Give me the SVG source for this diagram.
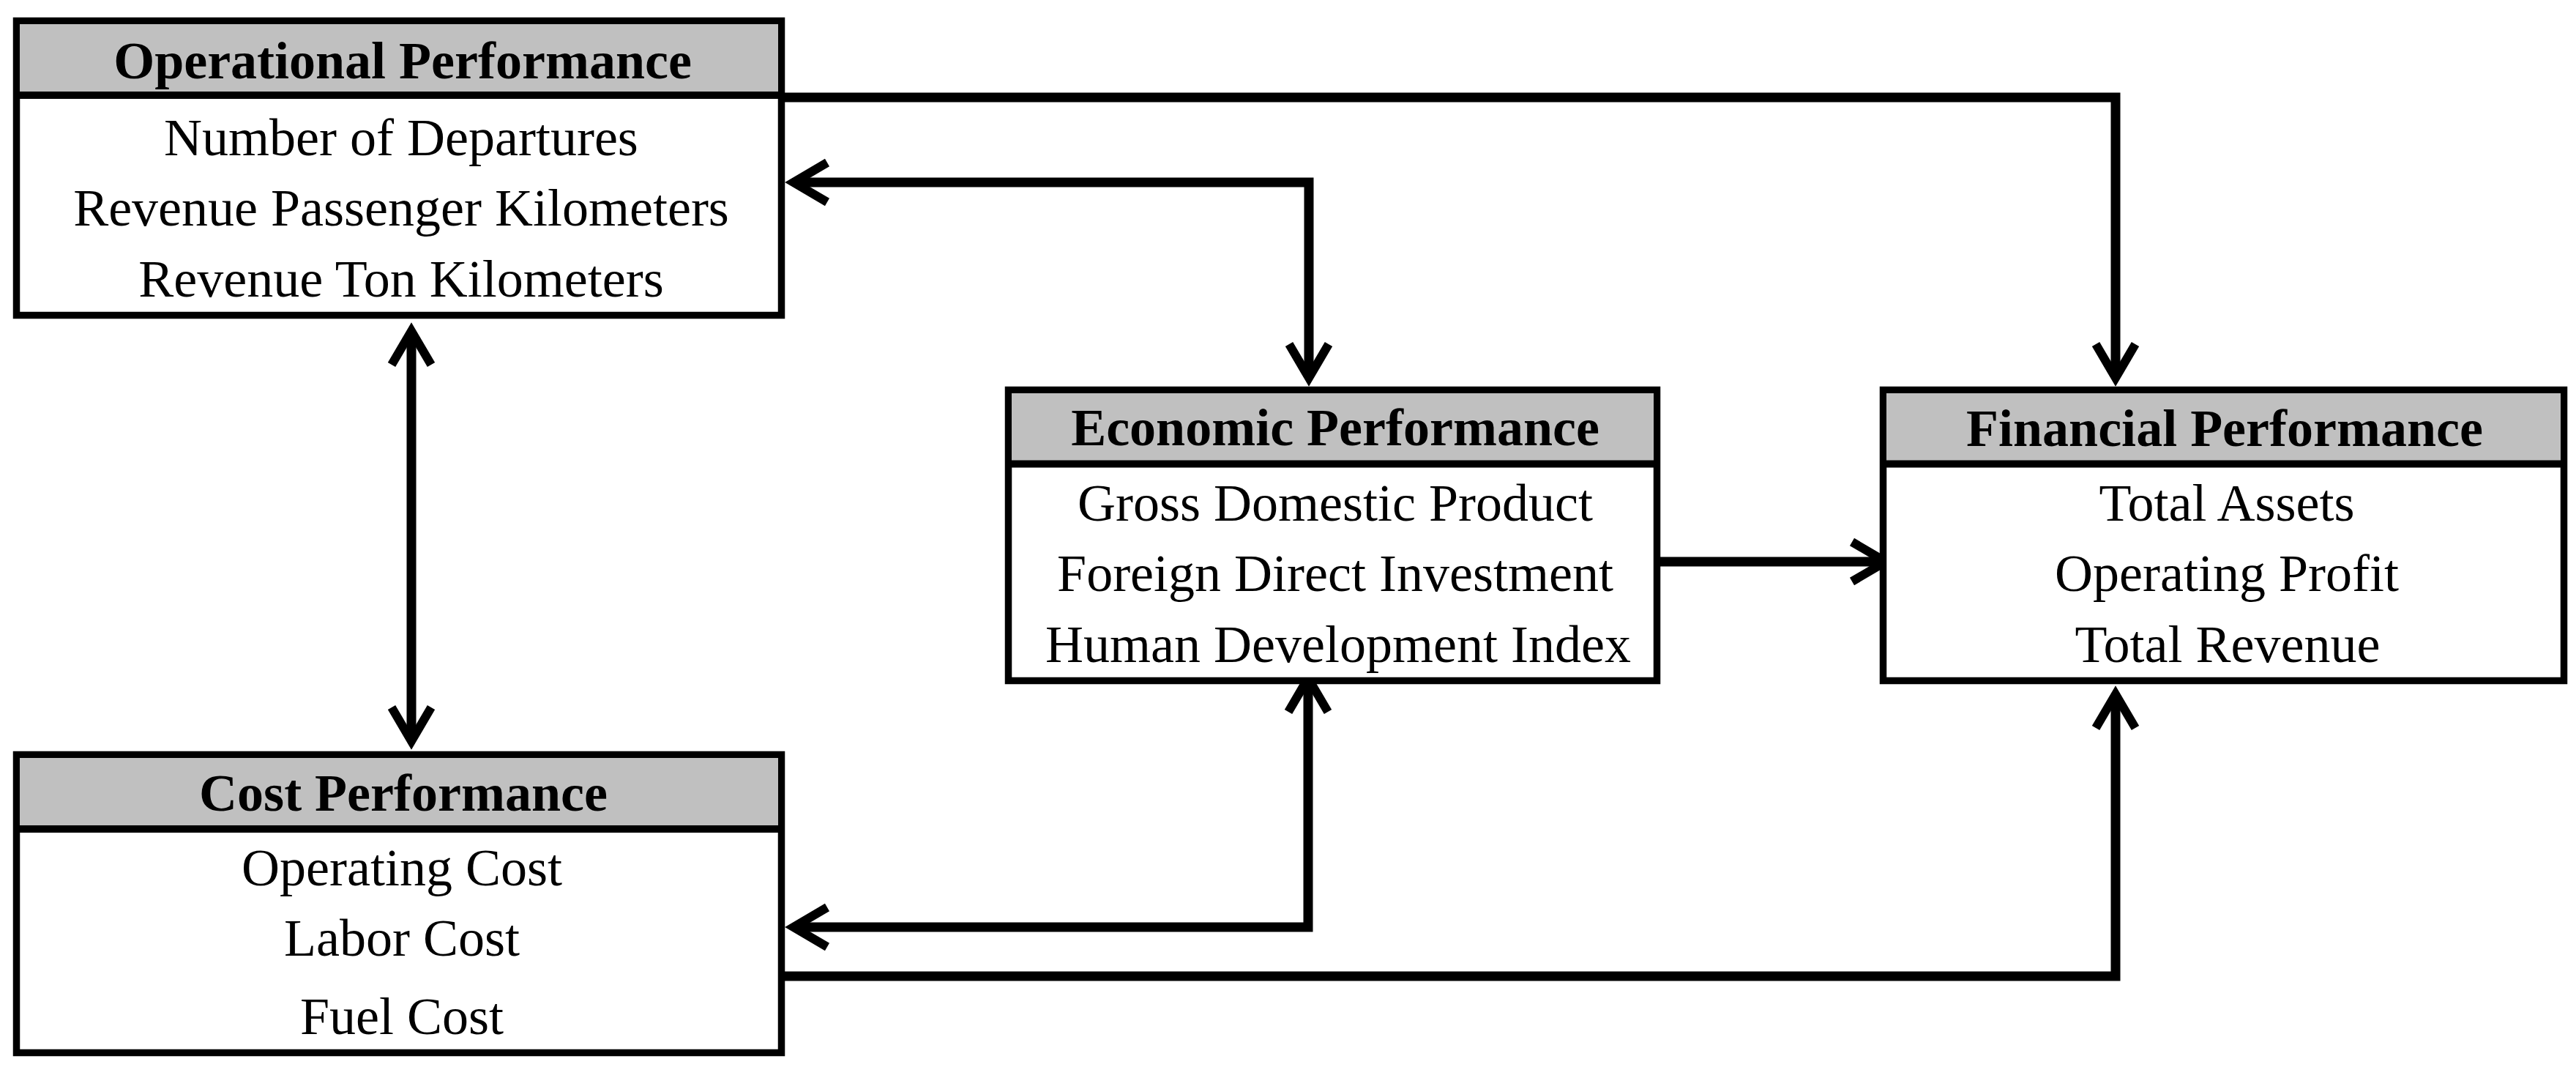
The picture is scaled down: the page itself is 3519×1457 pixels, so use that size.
<svg xmlns="http://www.w3.org/2000/svg" width="3519" height="1457" viewBox="0 0 3519 1457">
<style>
.box{fill:#ffffff;stroke:#000000;stroke-width:9.5}
.hdr{fill:#c0c0c0;stroke:none}
.div{stroke:#000000;stroke-width:10}
text{font-family:"Liberation Serif","Times New Roman",serif;font-size:72px;fill:#000000;text-anchor:middle}
.h{font-weight:bold}
.con{fill:none;stroke:#000000;stroke-width:13;stroke-linejoin:miter;stroke-linecap:butt}
</style>
<defs>
<marker id="arrow" markerUnits="userSpaceOnUse" markerWidth="100" markerHeight="100" viewBox="-70 -50 100 100" refX="0" refY="0" orient="auto-start-reverse" overflow="visible">
<path d="M -46 -27 L 0 0 L -46 27" fill="none" stroke="#000000" stroke-width="12" stroke-linejoin="miter"/>
</marker>
</defs>
<rect width="3519" height="1457" fill="#ffffff"/>

<g id="connectors">
<path class="con" d="M 1072 133 L 2890 133 L 2890 516" marker-end="url(#arrow)"/>
<path class="con" d="M 1084 249 L 1788 249 L 1788 516" marker-start="url(#arrow)" marker-end="url(#arrow)"/>
<path class="con" d="M 1084 1266 L 1787 1266 L 1787 926" marker-start="url(#arrow)" marker-end="url(#arrow)"/>
<path class="con" d="M 1072 1333 L 2890 1333 L 2890 948" marker-end="url(#arrow)"/>
<path class="con" d="M 562 452 L 562 1012" marker-start="url(#arrow)" marker-end="url(#arrow)"/>
<path class="con" d="M 2268 767 L 2576 767" marker-end="url(#arrow)"/>
</g>

<g id="operational">
<rect class="box" x="22.5" y="28.5" width="1045" height="402"/>
<rect class="hdr" x="27" y="33" width="1036" height="92"/>
<line class="div" x1="18" y1="130" x2="1072" y2="130"/>
<text class="h" x="550" y="107">Operational Performance</text>
<text x="548" y="212">Number of Departures</text>
<text x="548" y="308">Revenue Passenger Kilometers</text>
<text x="548" y="405">Revenue Ton Kilometers</text>
</g>

<g id="cost">
<rect class="box" x="22.5" y="1030.5" width="1045" height="407"/>
<rect class="hdr" x="27" y="1035" width="1036" height="92"/>
<line class="div" x1="18" y1="1132" x2="1072" y2="1132"/>
<text class="h" x="551" y="1107">Cost Performance</text>
<text x="549" y="1209">Operating Cost</text>
<text x="549" y="1305">Labor Cost</text>
<text x="549" y="1412">Fuel Cost</text>
</g>

<g id="economic">
<rect class="box" x="1377.5" y="532.5" width="886" height="397"/>
<rect class="hdr" x="1382" y="537" width="877" height="92"/>
<line class="div" x1="1373" y1="633.5" x2="2268" y2="633.5"/>
<text class="h" x="1824" y="608">Economic Performance</text>
<text x="1824" y="711">Gross Domestic Product</text>
<text x="1824" y="807">Foreign Direct Investment</text>
<text x="1828" y="904">Human Development Index</text>
</g>

<g id="financial">
<rect class="box" x="2572.5" y="532.5" width="930" height="397"/>
<rect class="hdr" x="2577" y="537" width="921" height="92"/>
<line class="div" x1="2568" y1="633.5" x2="3507" y2="633.5"/>
<text class="h" x="3039" y="609">Financial Performance</text>
<text x="3042" y="711">Total Assets</text>
<text x="3042" y="807">Operating Profit</text>
<text x="3043" y="904">Total Revenue</text>
</g>
</svg>
